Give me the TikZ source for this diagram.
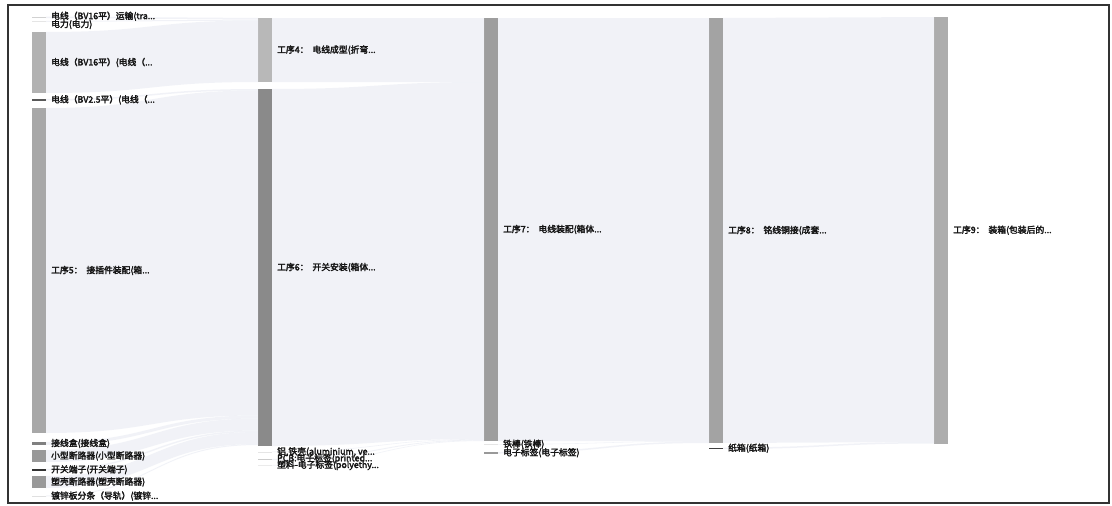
\documentclass[tikz,border=0pt]{standalone}
\usepackage{fontspec}
\usetikzlibrary{calc}
\newfontfamily\cjk[FakeBold=2.6]{Noto Sans CJK SC}
\definecolor{linkc}{HTML}{E6E9F2}
\definecolor{txt}{HTML}{141414}
\tikzset{
  bar/.style={draw=none, inner sep=0pt, outer sep=0pt, minimum width=14pt, anchor=north west, rectangle},
  lbl/.style={anchor=west, inner sep=0pt, text=txt, font=\cjk\fontsize{8.8pt}{8.8pt}\selectfont},
  linkfill/.style={fill=linkc, fill opacity=0.55},
}
\newcommand{\flowband}[6]{%
  \path ($(#1.north east)+(0,#2)$) coordinate (fa)
        ($(#1.north east)+(0,#3)$) coordinate (fb)
        ($(#4.north west)+(0,#5)$) coordinate (fc)
        ($(#4.north west)+(0,#6)$) coordinate (fd);
  \fill[linkfill] (fa) .. controls +(106,0) and +(-106,0) .. (fc) -- (fd)
        .. controls +(-106,0) and +(106,0) .. (fb) -- cycle;}
\begin{document}
\begin{tikzpicture}[x=1pt,y=-1pt]
\useasboundingbox (0,0) rectangle (1112,506);
\fill[white] (0,0) rectangle (1112,506);
% column 1
\node[bar, fill=black!18, minimum height=1.5pt] (ys) at (32,16.5) {};
\node[bar, fill=black!10, minimum height=1pt] (dl) at (32,21) {};
\node[bar, fill=black!30, minimum height=61pt] (bv16) at (32,32) {};
\node[bar, fill=black!65, minimum height=1.5pt] (bv25) at (32,99) {};
\node[bar, fill=black!34, minimum height=325pt] (g5) at (32,108) {};
\node[bar, fill=black!50, minimum height=3pt] (jxh) at (32,442) {};
\node[bar, fill=black!40, minimum height=12pt] (xx) at (32,450) {};
\node[bar, fill=black!80, minimum height=1.5pt] (kg) at (32,469) {};
\node[bar, fill=black!40, minimum height=12pt] (sk) at (32,476) {};
\node[bar, fill=black!12, minimum height=1pt] (dx) at (32,495.5) {};
% column 2
\node[bar, fill=black!28, minimum height=64pt] (g4) at (258,18) {};
\node[bar, fill=black!46, minimum height=357pt] (g6) at (258,89) {};
\node[bar, fill=black!10, minimum height=0.6pt] (lt) at (258,451.5) {};
\node[bar, fill=black!20, minimum height=1.2pt] (pcb) at (258,459) {};
\node[bar, fill=black!8, minimum height=0.6pt] (sl) at (258,465) {};
% column 3
\node[bar, fill=black!38, minimum height=423pt] (g7) at (484,18) {};
\node[bar, fill=black!10, minimum height=0.6pt] (tb) at (484,444) {};
\node[bar, fill=black!40, minimum height=1.5pt] (dz) at (484,452) {};
% column 4
\node[bar, fill=black!36, minimum height=425pt] (g8) at (709,18) {};
\node[bar, fill=black!75, minimum height=1.5pt] (zx) at (709,447.5) {};
% column 5
\node[bar, fill=black!32, minimum height=426.5pt] (g9) at (934,17) {};
% flows
\flowband{ys}{0}{1.5}{g4}{0}{1.5}
\flowband{dl}{0}{1}{g4}{1.5}{2.5}
\flowband{bv16}{0}{61}{g4}{2.5}{64}
\flowband{bv25}{0}{1.5}{g6}{0}{1.5}
\flowband{g5}{0}{325}{g6}{1.5}{326.5}
\flowband{jxh}{0}{3}{g6}{326.5}{329.5}
\flowband{xx}{0}{12}{g6}{329.5}{341.5}
\flowband{kg}{0}{1.5}{g6}{341.5}{343}
\flowband{sk}{0}{12}{g6}{343}{355}
\flowband{dx}{0}{1}{g6}{355}{356}
\flowband{g4}{0}{64}{g7}{0}{64}
\flowband{g6}{0}{357}{g7}{64}{421}
\flowband{lt}{0}{0.6}{g7}{421}{421.6}
\flowband{pcb}{0}{1.2}{g7}{421.6}{422.4}
\flowband{sl}{0}{0.6}{g7}{422.4}{423}
\flowband{g7}{0}{423}{g8}{0}{423}
\flowband{tb}{0}{0.6}{g8}{423}{423.5}
\flowband{dz}{0}{1.5}{g8}{423.5}{425}
\flowband{g8}{0}{425}{g9}{0}{425}
\flowband{zx}{0}{1.5}{g9}{425}{426.5}
% labels
\node[lbl] (l-ys) at ([xshift=5pt,yshift=1pt]ys.east) {电线（BV16平）运输(tra...};
\node[lbl] (l-dl) at ([xshift=5pt,yshift=-3pt]dl.east) {电力(电力)};
\node[lbl] (l-bv16) at ([xshift=5pt]bv16.east) {电线（BV16平）(电线（...};
\node[lbl] (l-bv25) at ([xshift=5pt]bv25.east) {电线（BV2.5平）(电线（...};
\node[lbl] (l-g5) at ([xshift=5pt]g5.east) {工序5：\hspace{4pt}接插件装配(箱...};
\node[lbl] (l-jxh) at ([xshift=5pt]jxh.east) {接线盒(接线盒)};
\node[lbl] (l-xx) at ([xshift=5pt]xx.east) {小型断路器(小型断路器)};
\node[lbl] (l-kg) at ([xshift=5pt]kg.east) {开关端子(开关端子)};
\node[lbl] (l-sk) at ([xshift=5pt]sk.east) {塑壳断路器(塑壳断路器)};
\node[lbl] (l-dx) at ([xshift=5pt]dx.east) {镀锌板分条（导轨）(镀锌...};
\node[lbl] (l-g4) at ([xshift=5pt]g4.east) {工序4：\hspace{4pt}电线成型(折弯...};
\node[lbl] (l-g6) at ([xshift=5pt]g6.east) {工序6：\hspace{4pt}开关安装(箱体...};
\node[lbl] (l-lt) at ([xshift=5pt]lt.east) {铝,铁壳(aluminium, ve...};
\node[lbl] (l-pcb) at ([xshift=5pt,yshift=1pt]pcb.east) {PCB:电子标签(printed...};
\node[lbl] (l-sl) at ([xshift=5pt]sl.east) {塑料-电子标签(polyethy...};
\node[lbl] (l-g7) at ([xshift=5pt]g7.east) {工序7：\hspace{4pt}电线装配(箱体...};
\node[lbl] (l-tb) at ([xshift=5pt]tb.east) {铁棒(铁棒)};
\node[lbl] (l-dz) at ([xshift=5pt]dz.east) {电子标签(电子标签)};
\node[lbl] (l-g8) at ([xshift=5pt]g8.east) {工序8：\hspace{4pt}铭线铜接(成套...};
\node[lbl] (l-zx) at ([xshift=5pt]zx.east) {纸箱(纸箱)};
\node[lbl] (l-g9) at ([xshift=5pt]g9.east) {工序9：\hspace{4pt}装箱(包装后的...};
% frame
\draw[line width=1.3pt, draw=black!80] (8,5) rectangle (1109,503);
\end{tikzpicture}
\end{document}
